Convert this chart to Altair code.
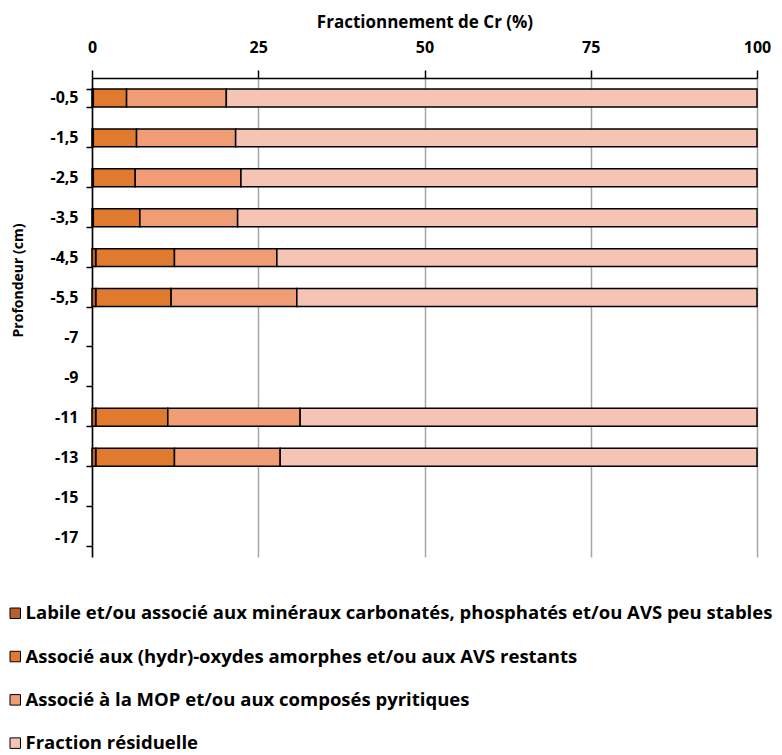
import altair as alt
import pandas as pd

depths = ["-0,5", "-1,5", "-2,5", "-3,5", "-4,5", "-5,5", "-7", "-9", "-11", "-13", "-15", "-17"]
series = [
    "Labile et/ou associé aux minéraux carbonatés, phosphatés et/ou AVS peu stables",
    "Associé aux (hydr)-oxydes amorphes et/ou aux AVS restants",
    "Associé à la MOP et/ou aux composés pyritiques",
    "Fraction résiduelle",
]
colors = ["#B9602A", "#E07A2F", "#F09C74", "#F6C4B4"]

bar_depths = ["-0,5", "-1,5", "-2,5", "-3,5", "-4,5", "-5,5", "-11", "-13"]
labile = [0.2, 0.2, 0.2, 0.2, 0.6, 0.6, 0.6, 0.6]
hydroxydes = [5.0, 6.5, 6.3, 7.0, 11.8, 11.3, 10.8, 11.8]
mop = [15.0, 14.9, 15.9, 14.7, 15.4, 18.9, 19.9, 15.9]
residuelle = [79.8, 78.4, 77.6, 78.1, 72.2, 69.2, 68.7, 71.7]

rows = []
for i, d in enumerate(bar_depths):
    for k, vals in enumerate([labile, hydroxydes, mop, residuelle]):
        rows.append({"depth": d, "fraction": series[k], "k": k, "value": vals[i]})
df = pd.DataFrame(rows)

FONT = "Open Sans"

chart = alt.Chart(df).mark_bar(
    stroke="black", strokeWidth=1.5, opacity=1
).encode(
    x=alt.X(
        "value:Q",
        stack="zero",
        scale=alt.Scale(domain=[0, 100], nice=False, zero=True),
        axis=alt.Axis(
            orient="top", values=[0, 25, 50, 75, 100], title="Fractionnement de Cr (%)",
            grid=True, gridColor="#A6A6A6", gridWidth=1.5,
            domainColor="black", domainWidth=1.5, tickColor="black", tickWidth=1.5,
            tickSize=8, labelPadding=15, labelFont=FONT, labelFontSize=16,
            labelFontWeight="bold", labelColor="black", titleFont=FONT,
            titleFontSize=17, titleFontWeight="bold", titleColor="black",
            titleY=-47, labelFlush=False,
        ),
    ),
    y=alt.Y(
        "depth:N",
        scale=alt.Scale(domain=depths, paddingInner=0.55, paddingOuter=0.275),
        axis=alt.Axis(
            title="Profondeur (cm)", tickBand="extent", grid=False,
            domainColor="black", domainWidth=1.5, tickColor="black", tickWidth=1.5,
            tickSize=6, labelPadding=8, labelFont=FONT, labelFontSize=16,
            labelFontWeight="bold", labelColor="black", titleFont=FONT,
            titleFontSize=14, titleFontWeight="bold", titleColor="black",
            titleX=-67, titleY=202,
        ),
    ),
    color=alt.Color(
        "fraction:N",
        scale=alt.Scale(domain=series, range=colors),
        legend=alt.Legend(
            title=None, orient="none", legendX=-86, legendY=526, direction="vertical",
            symbolType="square", symbolSize=110, symbolStrokeColor="black",
            symbolStrokeWidth=1, symbolOpacity=1, labelFont=FONT, labelFontSize=18.5,
            labelFontWeight="bold", labelColor="black", labelLimit=1000,
            rowPadding=24.3, labelOffset=1,
        ),
    ),
    order=alt.Order("k:Q", sort="ascending"),
).properties(
    width=665,
    height=479,
    padding={"left": 84, "top": 70, "right": 17, "bottom": 196},
    autosize=alt.AutoSizeParams(type="none"),
).configure_view(stroke=None)

chart.save("out.html", embed_options={"renderer": "svg", "actions": False})
